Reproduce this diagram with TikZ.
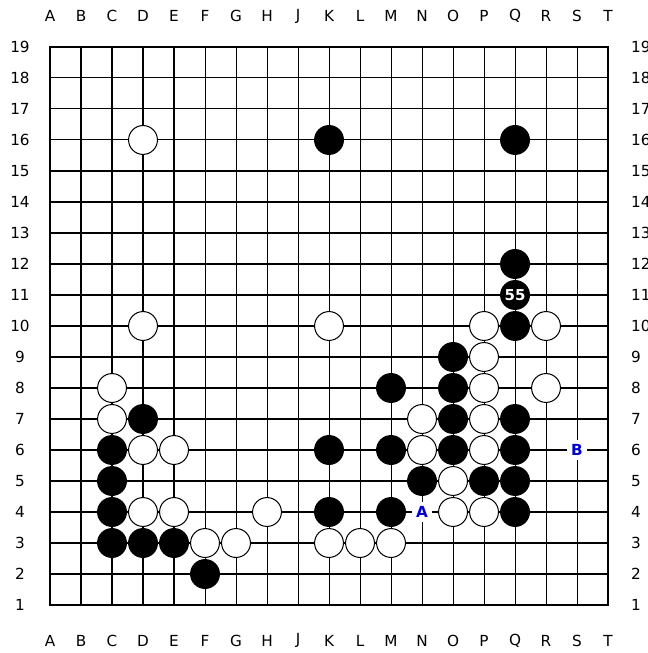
\documentclass[tikz,border=0pt]{standalone}
\usepackage{fontspec}
\setmainfont{DejaVu Sans}
\definecolor{cblue}{HTML}{0000CC}
\tikzset{
  every picture/.style={font=\fontsize{11.2}{13}\selectfont},
  gridline/.style={line width=0.75pt},
  frame/.style={line width=1.6pt},
  stone/.style={circle, draw=black, line width=0.75pt, minimum size=0.745cm, inner sep=0pt},
  wstone/.style={stone, fill=white},
  bstone/.style={stone, fill=black, text=white, font=\fontsize{11}{13}\selectfont\bfseries},
  coordlabel/.style={inner sep=0pt},
  letterbox/.style={fill=white, inner sep=0pt, minimum size=0.52cm, text=cblue, font=\fontsize{11.2}{13}\selectfont\bfseries},
}

\begin{document}
\begin{tikzpicture}[x=0.8cm, y=0.8cm]
  \useasboundingbox (-0.613,-0.548) rectangle (20.258,20.516);
  % lines of the board
  \foreach \k in {1,...,19} {
    \draw[gridline] (1,\k) -- (19,\k);
    \draw[gridline] (\k,1) -- (\k,19);
  }
  \draw[frame] (1,1) rectangle (19,19);
  % points and coordinates round the edge
  \foreach \l [count=\i] in {A,B,C,D,E,F,G,H,J,K,L,M,N,O,P,Q,R,S,T} {
    \foreach \r in {1,...,19} \coordinate (\l\r) at (\i,\r);
    \node[coordlabel] (top-\l) at (\i,20) {\l};
    \node[coordlabel] (bot-\l) at (\i,-0.145) {\l};
  }
  \foreach \r in {1,...,19} {
    \node[coordlabel] (left-\r) at (0.032,\r) {\r};
    \node[coordlabel, anchor=west] (right-\r) at (19.74,\r) {\r};
  }
  % stones
  \foreach \p in {D16,D10,K10,P10,R10,P9,C8,P8,R8,C7,N7,P7,D6,E6,N6,P6,O5,D4,E4,H4,O4,P4,F3,G3,K3,L3,M3}
    \node[wstone] (w-\p) at (\p) {};
  \foreach \p in {K16,Q16,Q12,Q10,O9,M8,O8,D7,O7,Q7,C6,K6,M6,O6,Q6,C5,N5,P5,Q5,C4,K4,M4,Q4,C3,D3,E3,F2}
    \node[bstone] (b-\p) at (\p) {};
  \node[bstone] (b-Q11) at (Q11) {55};
  % marked points
  \node[letterbox] (mark-A) at (N4) {A};
  \node[letterbox] (mark-B) at (S6) {B};
\end{tikzpicture}
\end{document}
